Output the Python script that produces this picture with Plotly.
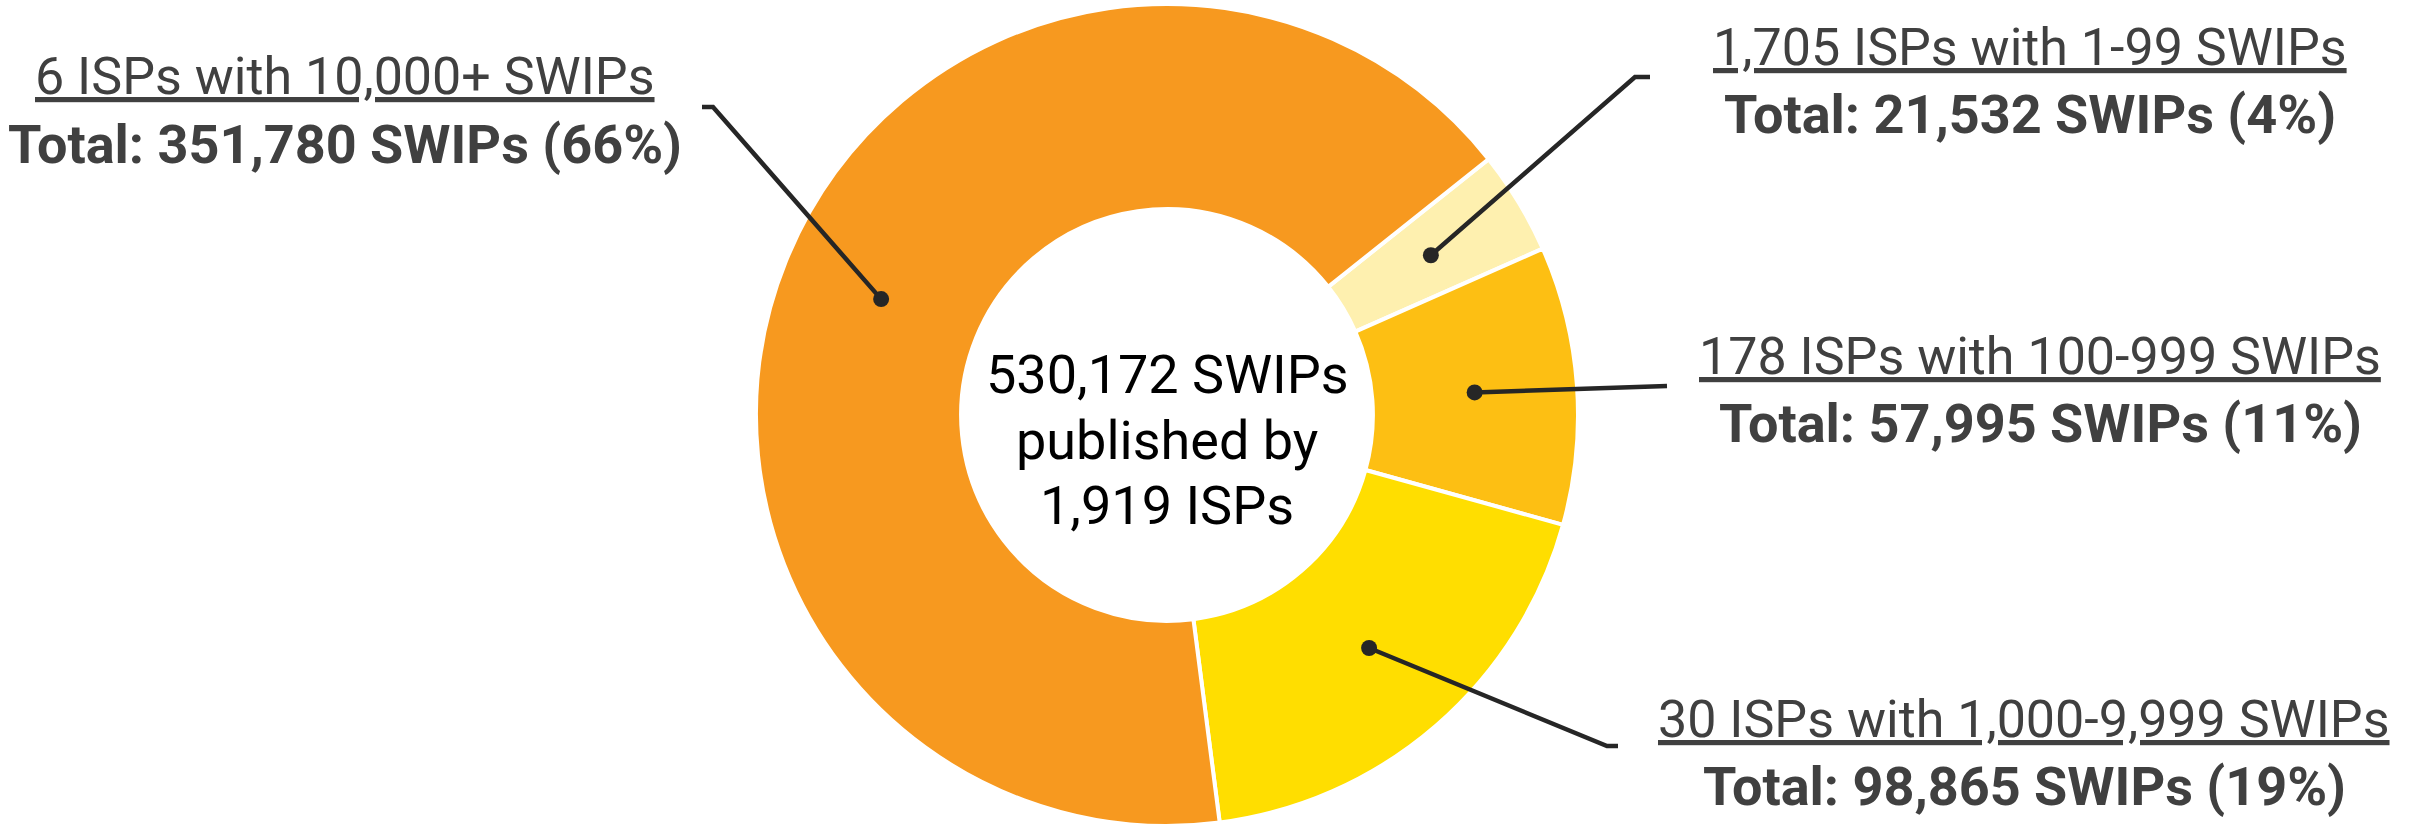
import math
import plotly.graph_objects as go

# ---------------- data ----------------
groups = ["1-99", "100-999", "1,000-9,999", "10,000+"]
isp_counts = [1705, 178, 30, 6]
swip_totals = [21532, 57995, 98865, 351780]
colors = ["#FEF0AF", "#FDBF13", "#FFDE00", "#F7991F"]

total_swips = sum(swip_totals)
total_isps = sum(isp_counts)
percents = [round(v / total_swips * 100) for v in swip_totals]

center_lines = [f"{total_swips:,} SWIPs", "published by", f"{total_isps:,} ISPs"]

# ---------------- layout constants (pixels) ----------------
W, H = 2423, 826
CX, CY, R = 1167, 415, 411
HOLE = 0.501
ROTATION = 51.5

label_x = [2030, 2040, 2024, 345]
label_underline_y = [75, 384, 747, 105]
leader_elbows = [
    [(1650, 77), (1635, 77)],
    [(1667, 386)],
    [(1618, 746), (1607, 746)],
    [(702, 107), (713, 107)],
]
center_line_y = [375, 440, 505]

TEXT_COLOR = "#404040"
LINE_COLOR = "#262626"
FONT_REG = "Roboto"
FONT_BOLD = "Roboto"


def px(x):
    return x / W


def py(y):
    return 1 - y / H


fig = go.Figure(
    go.Pie(
        labels=groups,
        values=swip_totals,
        sort=False,
        direction="clockwise",
        rotation=ROTATION,
        hole=HOLE,
        marker=dict(colors=colors, line=dict(color="white", width=4)),
        textinfo="none",
        hoverinfo="label+value+percent",
        showlegend=False,
        domain=dict(x=[px(CX - R), px(CX + R)],
                    y=[max(0, py(CY + R)), min(1, py(CY - R))]),
    )
)

annotations = []
shapes = []

# dot positions: mid-angle of each slice, mid-radius of ring
angle = ROTATION
r_mid = R * (1 + HOLE) / 2
for i, g in enumerate(groups):
    span = swip_totals[i] / total_swips * 360
    mid = math.radians(angle + span / 2)
    angle += span
    dx = CX + r_mid * math.sin(mid)
    dy = CY - r_mid * math.cos(mid)

    pts = leader_elbows[i] + [(dx, dy)]
    path = "M " + " L ".join(f"{px(a):.6f},{py(b):.6f}" for a, b in pts)
    shapes.append(dict(type="path", xref="paper", yref="paper", path=path,
                       line=dict(color=LINE_COLOR, width=4.5)))
    shapes.append(dict(type="circle", xref="paper", yref="paper",
                       xsizemode="pixel", ysizemode="pixel",
                       xanchor=px(dx), yanchor=py(dy),
                       x0=-8, x1=8, y0=-8, y1=8,
                       fillcolor=LINE_COLOR, line=dict(width=0)))

    yu = label_underline_y[i]
    annotations.append(dict(
        x=px(label_x[i]), y=py(yu - 28), xref="paper", yref="paper",
        xanchor="center", yanchor="middle", showarrow=False,
        text=f"<u>{isp_counts[i]:,} ISPs with {g} SWIPs</u>",
        font=dict(family=FONT_REG, size=52, color=TEXT_COLOR)))
    annotations.append(dict(
        x=px(label_x[i]), y=py(yu + 39), xref="paper", yref="paper",
        xanchor="center", yanchor="middle", showarrow=False,
        text=f"<b>Total: {swip_totals[i]:,} SWIPs ({percents[i]}%)</b>",
        font=dict(family=FONT_BOLD, size=54, color=TEXT_COLOR)))

for line, yy in zip(center_lines, center_line_y):
    annotations.append(dict(
        x=px(CX), y=py(yy), xref="paper", yref="paper",
        xanchor="center", yanchor="middle", showarrow=False,
        text=line,
        font=dict(family=FONT_REG, size=54, color="#000000")))

fig.update_layout(
    width=W, height=H,
    margin=dict(l=0, r=0, t=0, b=0),
    paper_bgcolor="white", plot_bgcolor="white",
    annotations=annotations, shapes=shapes,
)

fig.write_html("out.html",
               config={"displayModeBar": False},
               post_script="document.body.style.margin='0';"
                           "document.body.style.overflow='hidden';")
